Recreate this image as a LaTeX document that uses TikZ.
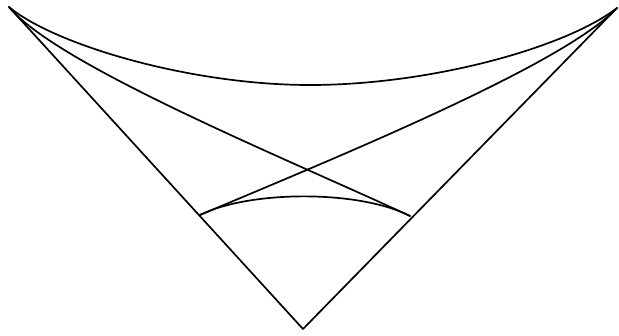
\documentclass[tikz,border=0pt]{standalone}
\usepackage{tikz}

\begin{document}
\begin{tikzpicture}[x=1pt, y=-1pt, arc/.style={line width=1.7pt, line cap=round, line join=round}]
  \useasboundingbox (0,0) rectangle (619,335);

  % Cusps of the triangle
  \coordinate (tl) at (9,7);
  \coordinate (tr) at (617,8);
  \coordinate (bot) at (303,329);
  \coordinate (mid) at (310,85);

  % Feet of the inner arc
  \coordinate (pl) at (200,215);
  \coordinate (pr) at (410,216);

  % Straight sides
  \draw[arc] (tl) -- (bot) -- (tr);

  % Top curve
  \draw[arc] (tl) .. controls (55,45) and (190,85) .. (mid)
             .. controls (430,85) and (565,48) .. (tr);

  % Crossing curves
  \draw[arc] (tl) .. controls (58,66) and (290,160) .. (pr);
  \draw[arc] (tr) .. controls (562,66) and (330,160) .. (pl);

  % Small arc
  \draw[arc] (pl) .. controls (250,190) and (360,190) .. (pr);
\end{tikzpicture}
\end{document}
